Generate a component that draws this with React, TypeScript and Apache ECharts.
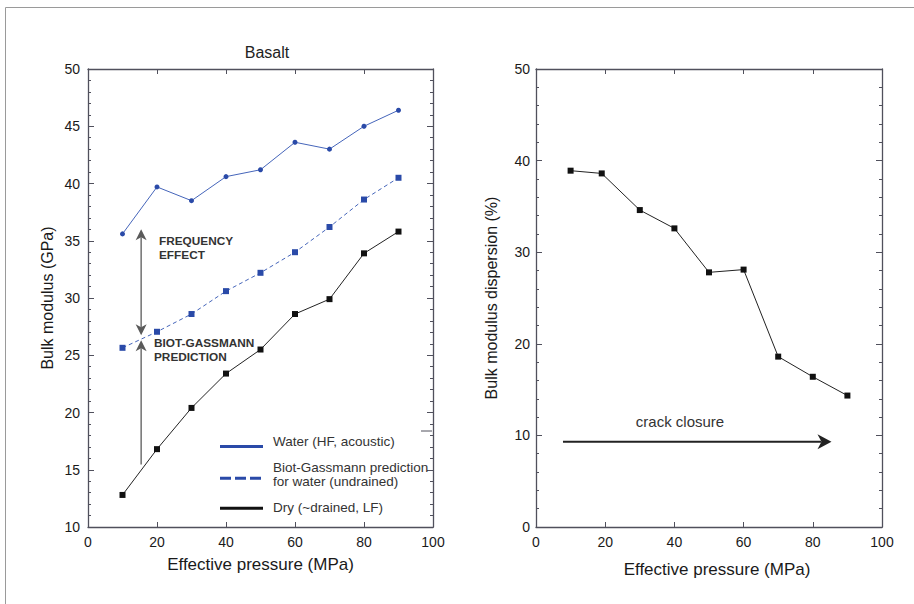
import React, { useEffect, useRef } from "react";
import * as echarts from "echarts";

// ---- data ----
const pressure = [10, 20, 30, 40, 50, 60, 70, 80, 90];
const waterHF = [35.6, 39.7, 38.5, 40.6, 41.2, 43.6, 43.0, 45.0, 46.4];
const biotGassmann = [25.65, 27.05, 28.6, 30.6, 32.2, 34.0, 36.2, 38.6, 40.5];
const dryLF = [12.8, 16.8, 20.4, 23.4, 25.5, 28.6, 29.9, 33.9, 35.8];

const dispPressure = [10, 19, 30, 40, 50, 60, 70, 80, 90];
const dispersion = [38.9, 38.6, 34.6, 32.6, 27.8, 28.1, 18.6, 16.4, 14.35];

// annotation arrows in data coordinates [start, tip]
const freqArrow = [[15.4, 36.0], [15.4, 26.75]];
const bgArrow = [[15.4, 15.45], [15.4, 26.3]];
const crackArrow = [[7.8, 9.3], [85.4, 9.3]];

const xTicks = { min: 0, max: 100, interval: 20 };
const leftY = { min: 10, max: 50, interval: 5 };
const rightY = { min: 0, max: 50, interval: 10 };

const FONT = "Liberation Sans, Arial, Helvetica, sans-serif";
const AXIS = "#50505c";
const BLUE = "#2a4aa8";
const BLUE_LINE = "#4565ba";

function pairs(xs: number[], ys: number[]) {
  return xs.map((x, i) => [x, ys[i]]);
}

function xAxisDef(grid: number, pos: "top" | "bottom", label: boolean, name?: string, nameGap?: number, padLeft?: number) {
  return {
    type: "value",
    gridIndex: grid,
    position: pos,
    ...xTicks,
    name: name || "",
    nameLocation: "middle",
    nameGap: nameGap || 0,
    nameTextStyle: { fontSize: 17, color: "#1a1a1a", fontFamily: FONT, padding: [0, 0, 0, padLeft || 0] },
    axisLine: { show: true, onZero: false, lineStyle: { color: AXIS, width: 1.3 } },
    axisTick: { show: true, inside: true, length: 5, lineStyle: { color: AXIS, width: 1 } },
    axisLabel: { show: label, fontSize: 14, color: "#1a1a1a", fontFamily: FONT, margin: 8 },
    splitLine: { show: false },
  };
}

function yAxisDef(grid: number, pos: "left" | "right", label: boolean, rng: any, name?: string, nameGap?: number, margin?: number) {
  return {
    type: "value",
    gridIndex: grid,
    position: pos,
    ...rng,
    name: name || "",
    nameLocation: "middle",
    nameGap: nameGap || 0,
    nameTextStyle: { fontSize: 16, color: "#1a1a1a", fontFamily: FONT },
    axisLine: { show: true, onZero: false, lineStyle: { color: AXIS, width: 1.3 } },
    axisTick: { show: true, inside: true, length: 6, lineStyle: { color: AXIS, width: 1 } },
    minorTick: { show: true, splitNumber: 5, length: 3, lineStyle: { color: AXIS, width: 1 } },
    axisLabel: { show: label, fontSize: 14, color: "#1a1a1a", fontFamily: FONT, margin: margin || 8 },
    splitLine: { show: false },
  };
}

function arrowHead(tip: number[], from: number[], w: number, len: number, notch: number, color: string) {
  const dx = tip[0] - from[0];
  const dy = tip[1] - from[1];
  const d = Math.sqrt(dx * dx + dy * dy) || 1;
  const ux = dx / d, uy = dy / d;
  const px = -uy, py = ux;
  const bx = tip[0] - ux * len, by = tip[1] - uy * len;
  const nx = tip[0] - ux * (len - notch), ny = tip[1] - uy * (len - notch);
  return {
    type: "polygon",
    shape: {
      points: [
        [tip[0], tip[1]],
        [bx + px * w / 2, by + py * w / 2],
        [nx, ny],
        [bx - px * w / 2, by - py * w / 2],
      ],
    },
    style: { fill: color, stroke: "none" },
    z: 20,
  };
}

export default function App() {
  const ref = useRef<HTMLDivElement>(null);
  useEffect(() => {
    document.body.style.margin = "0";
    const chart = echarts.init(ref.current!, null, { renderer: "svg" });
    const option: any = {
      animation: false,
      backgroundColor: "#ffffff",
      textStyle: { fontFamily: FONT },
      title: {
        text: "Basalt",
        left: 262,
        top: 39,
        textAlign: "center",
        textStyle: { fontSize: 16, fontWeight: "normal", color: "#222", fontFamily: FONT },
      },
      grid: [
        { left: 88, right: 481, top: 69, bottom: 77 },
        { left: 536, right: 32, top: 69, bottom: 77 },
      ],
      xAxis: [
        xAxisDef(0, "bottom", true, "Effective pressure (MPa)", 29),
        xAxisDef(0, "top", false),
        xAxisDef(1, "bottom", true, "Effective pressure (MPa)", 34, 16),
        xAxisDef(1, "top", false),
      ],
      yAxis: [
        yAxisDef(0, "left", true, leftY, "Bulk modulus (GPa)", 33, 8),
        yAxisDef(0, "right", false, leftY),
        yAxisDef(1, "left", true, rightY, "Bulk modulus dispersion (%)", 37, 6),
        yAxisDef(1, "right", false, rightY),
      ],
      series: [
        {
          name: "Water (HF, acoustic)",
          type: "line",
          xAxisIndex: 0,
          yAxisIndex: 0,
          data: pairs(pressure, waterHF),
          symbol: "circle",
          symbolSize: 5,
          itemStyle: { color: BLUE },
          lineStyle: { color: BLUE_LINE, width: 1 },
        },
        {
          name: "Biot-Gassmann prediction for water (undrained)",
          type: "line",
          xAxisIndex: 0,
          yAxisIndex: 0,
          data: pairs(pressure, biotGassmann),
          symbol: "rect",
          symbolSize: 6,
          itemStyle: { color: BLUE },
          lineStyle: { color: BLUE_LINE, width: 1, type: [4, 3] },
        },
        {
          name: "Dry (~drained, LF)",
          type: "line",
          xAxisIndex: 0,
          yAxisIndex: 0,
          data: pairs(pressure, dryLF),
          symbol: "rect",
          symbolSize: 6,
          itemStyle: { color: "#111" },
          lineStyle: { color: "#222", width: 1 },
        },
        {
          name: "Bulk modulus dispersion",
          type: "line",
          xAxisIndex: 2,
          yAxisIndex: 2,
          data: pairs(dispPressure, dispersion),
          symbol: "rect",
          symbolSize: 6,
          itemStyle: { color: "#111" },
          lineStyle: { color: "#222", width: 1 },
        },
      ],
    };
    chart.setOption(option);

    const toL = (p: number[]) => chart.convertToPixel({ xAxisIndex: 0, yAxisIndex: 0 }, p) as number[];
    const toR = (p: number[]) => chart.convertToPixel({ xAxisIndex: 2, yAxisIndex: 2 }, p) as number[];

    const f0 = toL(freqArrow[0]), f1 = toL(freqArrow[1]);
    const b0 = toL(bgArrow[0]), b1 = toL(bgArrow[1]);
    const c0 = toR(crackArrow[0]), c1 = toR(crackArrow[1]);
    const GRAY = "#5a5a5a";

    const txt = (x: number, y: number, text: string, size: number, bold: boolean, color: string) => ({
      type: "text",
      x,
      y,
      z: 30,
      style: {
        text,
        fontSize: size,
        fontWeight: bold ? "bold" : "normal",
        fontFamily: FONT,
        fill: color,
        textAlign: "left",
        textVerticalAlign: "middle",
      },
    });

    const graphic: any[] = [
      // outer frame
      { type: "rect", shape: { x: 5.5, y: 7.5, width: 1000, height: 1000 }, style: { fill: "none", stroke: "#9a9a9a", lineWidth: 1 }, z: 1 },
      // stray tick on right axis of left plot
      { type: "line", shape: { x1: 421, y1: 431, x2: 432, y2: 431 }, style: { stroke: AXIS, lineWidth: 1 }, z: 5 },
      // frequency effect double arrow
      { type: "line", shape: { x1: f0[0], y1: f0[1] + 8, x2: f1[0], y2: f1[1] - 8 }, style: { stroke: GRAY, lineWidth: 1.3 }, z: 20 },
      arrowHead(f0, f1, 11, 11, 3, GRAY),
      arrowHead(f1, f0, 11, 11, 3, GRAY),
      // biot-gassmann arrow
      { type: "line", shape: { x1: b0[0], y1: b0[1], x2: b1[0], y2: b1[1] + 8 }, style: { stroke: GRAY, lineWidth: 1.3 }, z: 20 },
      arrowHead(b1, b0, 11, 11, 3, GRAY),
      // crack closure arrow
      { type: "line", shape: { x1: c0[0], y1: c0[1], x2: c1[0] - 10, y2: c1[1] }, style: { stroke: "#222", lineWidth: 2 }, z: 20 },
      arrowHead(c1, c0, 15, 14, 4, "#222"),
      // annotation texts
      txt(159, 241, "FREQUENCY", 11.8, true, "#333"),
      txt(159, 254.5, "EFFECT", 11.8, true, "#333"),
      txt(154, 342.7, "BIOT-GASSMANN", 11.8, true, "#333"),
      txt(154, 357.3, "PREDICTION", 11.8, true, "#333"),
      { type: "text", x: 680, y: 421.7, z: 30, style: { text: "crack closure", fontSize: 15, fontFamily: FONT, fill: "#333", textAlign: "center", textVerticalAlign: "middle" } },
      // legend
      { type: "line", shape: { x1: 220, y1: 446.5, x2: 263, y2: 446.5 }, style: { stroke: BLUE, lineWidth: 3 }, z: 20 },
      txt(273, 441.7, "Water (HF, acoustic)", 13.5, false, "#333"),
      { type: "line", shape: { x1: 220, y1: 478.3, x2: 263, y2: 478.3 }, style: { stroke: BLUE, lineWidth: 3, lineDash: [11, 4] }, z: 20 },
      txt(273, 467.7, "Biot-Gassmann prediction", 13.5, false, "#333"),
      txt(273, 481.3, "for water (undrained)", 13.5, false, "#333"),
      { type: "line", shape: { x1: 220, y1: 508.3, x2: 263, y2: 508.3 }, style: { stroke: "#111", lineWidth: 3 }, z: 20 },
      txt(273, 507.7, "Dry (~drained, LF)", 13.5, false, "#333"),
    ];
    chart.setOption({ graphic });

    return () => chart.dispose();
  }, []);
  return <div ref={ref} style={{ width: 914, height: 604 }} />;
}
